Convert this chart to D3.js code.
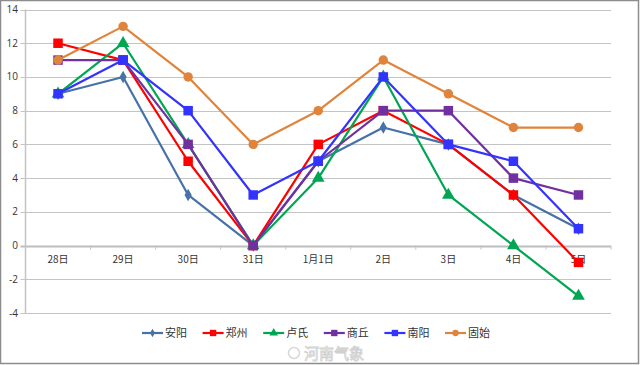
<!DOCTYPE html>
<html><head><meta charset="utf-8">
<script src="https://cdn.jsdelivr.net/npm/d3@7/dist/d3.min.js"></script>
<style>body{margin:0;background:#fff}svg{display:block}</style>
</head><body><svg id="c" width="640" height="365"></svg>
<script>
const categories = ["28日","29日","30日","31日","1月1日","2日","3日","4日","5日"];
const seriesNames = ["安阳","郑州","卢氏","商丘","南阳","固始"];
const anyang   = [9,10,3,0,5,7,6,3,1];
const zhengzhou= [12,11,5,0,6,8,6,3,-1];
const lushi    = [9,12,6,0,4,10,3,0,-3];
const shangqiu = [11,11,6,0,5,8,8,4,3];
const nanyang  = [9,11,8,3,5,10,6,5,1];
const gushi    = [11,13,10,6,8,11,9,7,7];
const yTicks = [-4,-2,0,2,4,6,8,10,12,14];

const seriesValues = [anyang, zhengzhou, lushi, shangqiu, nanyang, gushi];
const colors = ["#4672A8","#FF0000","#00A651","#7030A0","#3333FF","#E0843C"];
const markers = [d3.symbolDiamond, d3.symbolSquare, d3.symbolTriangle, d3.symbolSquare, d3.symbolSquare, d3.symbolCircle];
const msize = [45, 90, 70, 90, 90, 70];

const svg = d3.select("#c");
svg.append("rect").attr("x",0.5).attr("y",0.5).attr("width",638).attr("height",363)
  .attr("fill","#fff").attr("stroke","#8c8c8c").attr("stroke-width",1.5);

const L = 25.5, R = 611, T = 9.5, B = 313;
const x = d3.scaleBand().domain(categories).range([L, R]);
const y = d3.scaleLinear().domain([-4, 14]).range([B, T]);

// gridlines
svg.append("g").selectAll("line").data(yTicks).join("line")
  .attr("x1", L-5).attr("x2", R)
  .attr("y1", d => Math.round(y(d))+0.5).attr("y2", d => Math.round(y(d))+0.5)
  .attr("stroke", d => d===0 ? "#bdbdbd" : "#c4c4c4")
  .attr("stroke-width", d => d===0 ? 2 : 1);

// y labels
svg.append("g").selectAll("text").data(yTicks).join("text")
  .attr("x", 18).attr("y", d => y(d)+3.5).attr("text-anchor","end")
  .attr("font-family","'Open Sans', 'Liberation Sans', sans-serif").attr("font-size",10).attr("fill","#333")
  .text(d => d);

// y axis line
svg.append("line").attr("x1",L).attr("x2",L).attr("y1",T).attr("y2",B)
  .attr("stroke","#c4c4c4").attr("stroke-width",1.5);

// category tick marks on the zero line
const bounds = categories.map(c => x(c)).concat([R]);
svg.append("g").selectAll("line").data(bounds).join("line")
  .attr("x1", d=>d).attr("x2", d=>d).attr("y1", y(0)).attr("y2", y(0)+4)
  .attr("stroke","#c4c4c4").attr("stroke-width",1);

// x labels
svg.append("g").selectAll("text").data(categories).join("text")
  .attr("x", d => x(d)+x.bandwidth()/2).attr("y", y(0)+17).attr("text-anchor","middle")
  .attr("font-family","'Noto Sans CJK SC', sans-serif").attr("font-size",10).attr("fill","#333")
  .text(d => d);

const line = d3.line().x((d,i) => x(categories[i])+x.bandwidth()/2).y(d => y(d));

seriesValues.forEach((vals, s) => {
  const g = svg.append("g");
  g.append("path").attr("d", line(vals)).attr("fill","none")
    .attr("stroke", colors[s]).attr("stroke-width", 2.2).attr("stroke-linejoin","round");
  g.selectAll("path.m").data(vals).join("path").attr("class","m")
    .attr("transform",(d,i) => `translate(${x(categories[i])+x.bandwidth()/2},${y(d)})`)
    .attr("d", d3.symbol().type(markers[s]).size(msize[s]))
    .attr("fill", colors[s]);
});

// legend
const lg = svg.append("g");
seriesNames.forEach((n, i) => {
  const lx = 142 + i*60.6, ly = 333;
  lg.append("line").attr("x1",lx).attr("x2",lx+21).attr("y1",ly).attr("y2",ly)
    .attr("stroke",colors[i]).attr("stroke-width",2.2);
  lg.append("path").attr("transform",`translate(${lx+10.5},${ly})`)
    .attr("d", d3.symbol().type(markers[i]).size(msize[i]*0.45)).attr("fill",colors[i]);
  lg.append("text").attr("x", lx+23).attr("y", ly+4).attr("font-family","'Noto Sans CJK SC', sans-serif")
    .attr("font-size",11).attr("fill","#333").text(n);
});

// watermark
const wm = svg.append("g").attr("opacity",0.55);
wm.append("circle").attr("cx",294).attr("cy",353).attr("r",5.5).attr("fill","none").attr("stroke","#bbb").attr("stroke-width",1.5);
wm.append("text").attr("x",304).attr("y",359).attr("font-family","'Noto Sans CJK SC', sans-serif")
  .attr("font-size",15).attr("fill","#fff").attr("stroke","#aaa").attr("stroke-width",0.8).text("河南气象");
</script></body></html>
